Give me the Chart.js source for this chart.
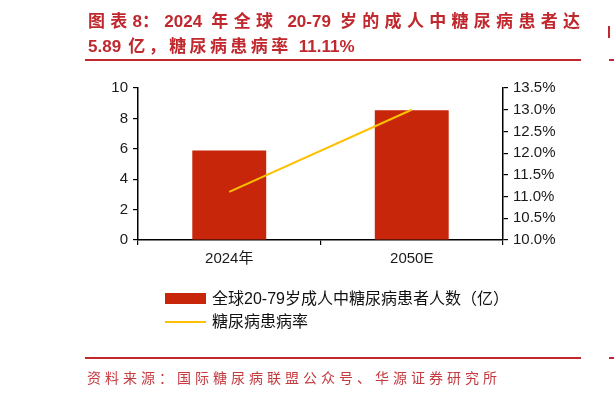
<!DOCTYPE html>
<html>
<head>
<meta charset="utf-8">
<script src="https://cdn.jsdelivr.net/npm/chart.js@4/dist/chart.umd.min.js"></script>
<style>
  html, body { margin:0; padding:0; background:#fff; }
  body { width:614px; height:396px; position:relative; overflow:hidden; }
  #c { position:absolute; left:0; top:0; }
  .title { position:absolute; left:88px; color:#C0282E; font-family:"Noto Sans CJK SC", sans-serif; font-weight:bold; font-size:17px; white-space:nowrap; line-height:20px; }
  .title .lat { font-family:"Liberation Sans", Arial, sans-serif; font-weight:bold; }
  .rule { position:absolute; left:85px; width:496px; height:2px; background:#C0282E; }
  .src { position:absolute; left:87px; top:367px; color:#C43A3F; font-family:"Noto Sans CJK SC", sans-serif; font-size:14px; white-space:nowrap; line-height:20px; }
  .leg { position:absolute; font-family:"Liberation Sans","Noto Sans CJK SC", sans-serif; font-size:16px; color:#111; white-space:nowrap; line-height:18px; }
  .sw { position:absolute; }
  .edge { position:absolute; background:#C0282E; }
</style>
</head>
<body>
<canvas id="c" width="614" height="396"></canvas>
<div class="title" id="t1" style="top:10px;"></div>
<div class="title" id="t2" style="top:35px;"></div>
<div class="rule" style="top:59px;"></div>
<div class="rule" style="top:357px;"></div>
<div class="src" id="src"></div>
<div class="sw" id="sw1" style="left:165px; top:293px; width:41px; height:11px;"></div>
<div class="leg" id="lg1" style="left:212px; top:290px;"></div>
<div class="sw" id="sw2" style="left:165px; top:321px; width:41px; height:2px;"></div>
<div class="leg" id="lg2" style="left:212px; top:313px;"></div>
<div class="edge" style="left:608px; top:26px; width:2px; height:12px;"></div>
<div class="edge" style="left:609px; top:59px; width:5px; height:2px;"></div>
<div class="edge" style="left:609px; top:357px; width:5px; height:2px;"></div>
<script>
// ---- data ----
const titleLines = ["图表8：2024 年全球 20-79 岁的成人中糖尿病患者达", "5.89 亿，糖尿病患病率 11.11%"];
const sourceText = "资料来源：国际糖尿病联盟公众号、华源证券研究所";
const categories = ["2024年", "2050E"];
const patientsLabel = "全球20-79岁成人中糖尿病患者人数（亿）";
const patients = [5.89, 8.53];
const prevalenceLabel = "糖尿病患病率";
const prevalence = [11.11, 13.0];
const leftTicks = [0, 2, 4, 6, 8, 10];
const rightTicks = [10.0, 10.5, 11.0, 11.5, 12.0, 12.5, 13.0, 13.5];

const barColor = "#C8260A";
const lineColor = "#FFC000";

// ---- text layout helpers ----
const isCJK = ch => /[\u3000-\u9fff\uff00-\uffef]/.test(ch);
const isStretch = ch => isCJK(ch) || ch === ' ';
function buildTitle(el, text, spacing, targetWidth) {
  el.innerHTML = '';
  const spans = [];
  let cur = null, curType = null;
  for (const ch of text) {
    const t = isStretch(ch);
    if (t !== curType) {
      cur = document.createElement('span');
      if (!t) cur.className = 'lat';
      cur.dataset.s = t ? '1' : '0';
      el.appendChild(cur);
      spans.push(cur);
      curType = t;
    }
    cur.textContent += ch;
  }
  let s = spacing;
  if (targetWidth) {
    const n = [...text].filter(isStretch).length;
    const w0 = el.getBoundingClientRect().width;
    const last = isStretch([...text].pop());
    s = (targetWidth - w0) / (n - (last ? 1 : 0));
  }
  spans.forEach(sp => { if (sp.dataset.s === '1') sp.style.letterSpacing = s + 'px'; });
}
function fitSpacing(el, targetWidth) {
  el.style.letterSpacing = '0px';
  const w0 = el.getBoundingClientRect().width;
  const n = [...el.textContent].length;
  el.style.letterSpacing = ((targetWidth - w0) / (n - 1)) + 'px';
}

buildTitle(document.getElementById('t1'), titleLines[0], 0, 492);
buildTitle(document.getElementById('t2'), titleLines[1], 3.4, 0);
const srcEl = document.getElementById('src');
srcEl.textContent = sourceText;
fitSpacing(srcEl, 410);
document.getElementById('lg1').textContent = patientsLabel;
document.getElementById('lg2').textContent = prevalenceLabel;
document.getElementById('sw1').style.background = barColor;
document.getElementById('sw2').style.background = lineColor;

const tickFont = { family: "'Liberation Sans', Arial, 'Noto Sans CJK SC', sans-serif", size: 15 };

new Chart(document.getElementById('c'), {
  data: {
    labels: categories,
    datasets: [
      { type: 'line', label: prevalenceLabel, data: prevalence, yAxisID: 'y1',
        borderColor: lineColor, borderWidth: 2, pointRadius: 0, fill: false, order: 0, tension: 0 },
      { type: 'bar', label: patientsLabel, data: patients, yAxisID: 'y',
        backgroundColor: barColor, barPercentage: 0.405, categoryPercentage: 1.0, order: 1 }
    ]
  },
  options: {
    responsive: false,
    animation: false,
    devicePixelRatio: 1,
    layout: { padding: { left: 78, right: 51, top: 88, bottom: 126 } },
    plugins: { legend: { display: false }, tooltip: { enabled: false }, title: { display: false } },
    scales: {
      x: {
        offset: true,
        grid: { display: true, offset: true, drawOnChartArea: false, drawTicks: true, tickLength: 5, color: '#000', lineWidth: 1.2 },
        border: { display: true, color: '#000', width: 1.5 },
        ticks: { color: '#1a1a1a', font: tickFont, padding: 5 },
        afterFit: s => { s.height = 30; }
      },
      y: {
        position: 'left', min: 0, max: 10,
        afterBuildTicks: s => { s.ticks = leftTicks.map(v => ({ value: v })); },
        grid: { display: true, drawOnChartArea: false, drawTicks: true, tickLength: 5, color: '#000', lineWidth: 1.2 },
        border: { display: true, color: '#000', width: 1.5 },
        ticks: { color: '#1a1a1a', font: tickFont, padding: 5 },
        afterFit: s => { s.width = 60; }
      },
      y1: {
        position: 'right', min: 10, max: 13.5,
        afterBuildTicks: s => { s.ticks = rightTicks.map(v => ({ value: v })); },
        grid: { display: true, drawOnChartArea: false, drawTicks: true, tickLength: 5, color: '#000', lineWidth: 1.2 },
        border: { display: true, color: '#000', width: 1.5 },
        ticks: { color: '#1a1a1a', font: tickFont, padding: 5, callback: v => Number(v).toFixed(1) + '%' },
        afterFit: s => { s.width = 60; }
      }
    }
  }
});
</script>
</body>
</html>
